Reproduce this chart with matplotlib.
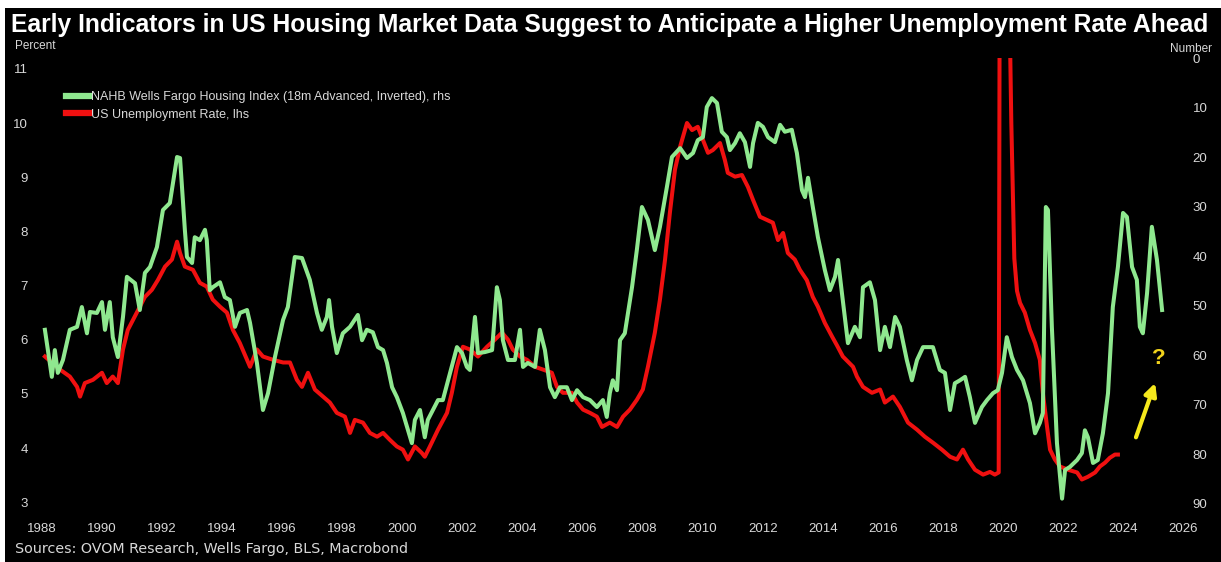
import matplotlib
matplotlib.use("Agg")
import matplotlib.pyplot as plt
from matplotlib.patches import Rectangle
from matplotlib.lines import Line2D

# US unemployment rate, percent (lhs)
unemp_years = [1988.10, 1988.60, 1988.93, 1989.17, 1989.27, 1989.43, 1989.70, 1990.00, 1990.16, 1990.36,
               1990.53, 1990.70, 1990.86, 1991.16, 1991.43, 1991.66, 1991.86, 1992.10, 1992.33, 1992.50,
               1992.60, 1992.76, 1993.03, 1993.26, 1993.49, 1993.69, 1993.93, 1994.16, 1994.36, 1994.59,
               1994.93, 1995.16, 1995.36, 1995.69, 1996.03, 1996.26, 1996.49, 1996.66, 1996.86, 1997.09,
               1997.36, 1997.59, 1997.82, 1998.09, 1998.26, 1998.42, 1998.69, 1998.92, 1999.16, 1999.36,
               1999.59, 1999.82, 2000.02, 2000.19, 2000.42, 2000.65, 2000.75, 2000.92, 2001.19, 2001.49,
               2001.65, 2001.82, 2002.02, 2002.25, 2002.52, 2002.82, 2003.08, 2003.32, 2003.52, 2003.68,
               2003.92, 2004.15, 2004.42, 2004.68, 2004.98, 2005.15, 2005.35, 2005.65, 2005.82, 2006.02,
               2006.25, 2006.48, 2006.65, 2006.91, 2007.15, 2007.35, 2007.58, 2007.81, 2008.01, 2008.18,
               2008.41, 2008.58, 2008.75, 2008.91, 2009.08, 2009.25, 2009.48, 2009.65, 2009.84, 2010.01,
               2010.18, 2010.34, 2010.58, 2010.74, 2010.84, 2011.08, 2011.31, 2011.51, 2011.68, 2011.91,
               2012.14, 2012.34, 2012.51, 2012.68, 2012.84, 2013.07, 2013.24, 2013.47, 2013.67, 2013.84,
               2014.07, 2014.31, 2014.47, 2014.67, 2015.01, 2015.14, 2015.34, 2015.64, 2015.91, 2016.07,
               2016.34, 2016.57, 2016.84, 2017.14, 2017.40, 2017.67, 2017.97, 2018.24, 2018.47, 2018.67,
               2018.84, 2019.07, 2019.34, 2019.57, 2019.73, 2019.86, 2019.90, 2020.15, 2020.28, 2020.38,
               2020.47, 2020.57, 2020.73, 2020.90, 2021.07, 2021.23, 2021.33,
               2021.47, 2021.57, 2021.73, 2021.90, 2022.17, 2022.47, 2022.63, 2022.83, 2023.07, 2023.23,
               2023.40, 2023.56, 2023.73, 2023.83]
unemp_rate = [5.69, 5.45, 5.32, 5.13, 4.95, 5.20, 5.26, 5.39, 5.20, 5.32,
              5.20, 5.82, 6.18, 6.50, 6.79, 6.92, 7.10, 7.35, 7.48, 7.81,
              7.60, 7.35, 7.29, 7.05, 6.98, 6.74, 6.61, 6.50, 6.18, 5.94,
              5.50, 5.82, 5.69, 5.63, 5.58, 5.58, 5.26, 5.13, 5.39, 5.08,
              4.95, 4.84, 4.65, 4.58, 4.28, 4.52, 4.47, 4.28, 4.21, 4.28,
              4.15, 4.03, 3.97, 3.79, 4.03, 3.91, 3.84, 4.03, 4.34, 4.65,
              5.02, 5.50, 5.87, 5.82, 5.69, 5.87, 6.00, 6.13, 6.00, 5.82,
              5.69, 5.63, 5.50, 5.45, 5.39, 5.13, 5.02, 5.02, 4.84, 4.71,
              4.65, 4.58, 4.39, 4.47, 4.39, 4.58, 4.71, 4.89, 5.08, 5.50,
              6.13, 6.74, 7.48, 8.34, 9.14, 9.56, 10.00, 9.87, 9.93, 9.69,
              9.45, 9.50, 9.63, 9.32, 9.08, 9.01, 9.04, 8.82, 8.58, 8.27,
              8.21, 8.16, 7.84, 7.97, 7.60, 7.48, 7.29, 7.10, 6.79, 6.61,
              6.31, 6.06, 5.90, 5.69, 5.50, 5.32, 5.13, 5.02, 5.08, 4.84,
              4.95, 4.76, 4.47, 4.34, 4.21, 4.10, 3.97, 3.84, 3.79, 3.97,
              3.79, 3.60, 3.51, 3.56, 3.51, 3.55, 14.70, 14.60, 10.00, 7.50,
              6.90, 6.68, 6.50, 6.18, 5.94, 5.63, 5.02,
              4.39, 3.97, 3.79, 3.66, 3.60, 3.55, 3.42, 3.47, 3.55, 3.66,
              3.73, 3.82, 3.88, 3.88]

# NAHB Wells Fargo housing index, 18m advanced, inverted (rhs)
nahb_years = [1988.10, 1988.20, 1988.33, 1988.43, 1988.53, 1988.70, 1988.93, 1989.17, 1989.33, 1989.50,
              1989.60, 1989.83, 1990.00, 1990.10, 1990.26, 1990.36, 1990.53, 1990.70, 1990.83, 1991.10,
              1991.26, 1991.43, 1991.60, 1991.83, 1992.03, 1992.26, 1992.50, 1992.60, 1992.76, 1992.83,
              1993.00, 1993.09, 1993.26, 1993.43, 1993.49, 1993.59, 1993.69, 1993.93, 1994.09, 1994.26,
              1994.43, 1994.59, 1994.83, 1994.93, 1995.16, 1995.36, 1995.53, 1995.76, 1996.03, 1996.19,
              1996.42, 1996.66, 1996.92, 1997.16, 1997.32, 1997.49, 1997.56, 1997.66, 1997.82, 1998.02,
              1998.26, 1998.52, 1998.66, 1998.82, 1999.02, 1999.19, 1999.36, 1999.49, 1999.66, 1999.82,
              2000.02, 2000.32, 2000.42, 2000.59, 2000.75, 2000.85, 2001.02, 2001.19, 2001.35, 2001.59,
              2001.82, 2001.99, 2002.15, 2002.25, 2002.42, 2002.52, 2002.75, 2002.99, 2003.15, 2003.25,
              2003.35, 2003.52, 2003.75, 2003.92, 2004.02, 2004.18, 2004.42, 2004.58, 2004.75, 2004.92,
              2005.08, 2005.25, 2005.48, 2005.65, 2005.82, 2006.02, 2006.25, 2006.48, 2006.68, 2006.81,
              2006.91, 2007.01, 2007.15, 2007.25, 2007.41, 2007.65, 2007.81, 2007.98, 2008.18, 2008.41,
              2008.58, 2008.81, 2008.98, 2009.25, 2009.48, 2009.68, 2009.84, 2010.01, 2010.14, 2010.31,
              2010.48, 2010.64, 2010.81, 2010.91, 2011.08, 2011.24, 2011.41, 2011.58, 2011.68, 2011.84,
              2012.01, 2012.18, 2012.41, 2012.58, 2012.74, 2012.97, 2013.14, 2013.31, 2013.41, 2013.51,
              2013.67, 2013.84, 2014.07, 2014.24, 2014.41, 2014.51, 2014.64, 2014.84, 2015.07, 2015.24,
              2015.34, 2015.57, 2015.74, 2015.91, 2016.07, 2016.24, 2016.41, 2016.57, 2016.80, 2016.97,
              2017.14, 2017.34, 2017.67, 2017.90, 2018.07, 2018.24, 2018.40, 2018.57, 2018.74, 2018.90,
              2019.07, 2019.30, 2019.47, 2019.67, 2019.83, 2019.97, 2020.13, 2020.30, 2020.47, 2020.67,
              2020.90, 2021.07, 2021.23, 2021.33, 2021.43, 2021.50, 2021.63, 2021.80, 2021.97, 2022.07,
              2022.23, 2022.47, 2022.63, 2022.73, 2022.83, 2023.00, 2023.16, 2023.33, 2023.50, 2023.66,
              2023.83, 2024.00, 2024.13, 2024.30, 2024.46, 2024.56, 2024.66, 2024.80, 2024.96, 2025.13,
              2025.30]
nahb_index = [54.9, 59.0, 64.4, 59.0, 63.6, 61.0, 54.9, 54.3, 50.3, 55.6,
              51.3, 51.5, 49.3, 54.9, 49.3, 56.4, 60.4, 52.3, 44.2, 45.5,
              50.9, 43.4, 42.2, 38.2, 30.7, 29.3, 20.0, 20.2, 34.7, 40.2,
              41.4, 36.2, 36.8, 34.7, 36.8, 46.9, 46.3, 45.3, 48.3, 48.9,
              54.3, 51.5, 50.9, 53.5, 61.6, 71.1, 67.7, 60.4, 52.9, 50.3,
              40.2, 40.4, 44.8, 51.5, 54.9, 52.3, 48.9, 54.3, 59.6, 55.6,
              54.3, 51.9, 57.0, 54.9, 55.4, 58.4, 59.0, 61.6, 66.5, 68.5,
              71.7, 77.8, 73.1, 71.1, 76.6, 73.1, 71.1, 69.1, 69.1, 63.6,
              58.4, 59.6, 62.4, 63.0, 52.3, 59.6, 59.4, 59.0, 46.3, 48.9,
              57.0, 61.0, 61.0, 54.9, 62.4, 61.6, 62.4, 54.9, 59.0, 66.5,
              68.5, 66.5, 66.5, 69.1, 67.1, 68.5, 69.1, 70.5, 69.1, 72.5,
              67.7, 65.1, 67.1, 57.0, 55.6, 46.3, 38.8, 30.1, 32.7, 38.8,
              34.1, 26.1, 20.0, 18.2, 20.2, 19.2, 16.6, 16.0, 9.9, 8.1,
              9.1, 14.9, 16.0, 18.6, 17.2, 15.2, 17.0, 22.0, 17.2, 13.1,
              13.9, 16.0, 17.0, 13.5, 14.9, 14.5, 19.2, 26.7, 28.1, 24.2,
              30.1, 36.2, 42.8, 46.9, 44.2, 40.8, 47.5, 57.6, 54.3, 56.4,
              46.3, 45.3, 48.9, 59.0, 54.3, 58.4, 52.3, 54.3, 61.0, 65.1,
              61.0, 58.4, 58.4, 63.0, 63.6, 71.1, 65.7, 65.1, 64.4, 68.5,
              73.7, 70.5, 69.1, 67.7, 67.1, 63.6, 56.4, 60.4, 63.0, 65.1,
              69.7, 75.8, 73.7, 71.7, 30.1, 30.7, 54.3, 77.8, 89.0, 83.2,
              82.6, 81.2, 79.8, 75.2, 76.6, 81.8, 81.2, 75.8, 67.7, 50.3,
              42.2, 31.3, 32.1, 42.2, 44.8, 54.3, 55.6, 47.5, 34.1, 40.8,
              50.9]

x_ticks = list(range(1988, 2027, 2))
left_ticks = list(range(3, 12))
right_ticks = list(range(0, 91, 10))

title = "Early Indicators in US Housing Market Data Suggest to Anticipate a Higher Unemployment Rate Ahead"
nahb_label = "NAHB Wells Fargo Housing Index (18m Advanced, Inverted), rhs"
unemp_label = "US Unemployment Rate, lhs"
source = "Sources: OVOM Research, Wells Fargo, BLS, Macrobond"

GREEN = "#8fe88f"
RED = "#f01010"
TXT = "#d8d8d8"
W, H = 1221, 562

plt.rcParams["font.family"] = ["Liberation Sans", "DejaVu Sans"]

fig = plt.figure(figsize=(W / 100, H / 100), dpi=100, facecolor="white")
fig.patches.append(Rectangle((5 / W, 0), 1 - 5 / W, 1 - 8 / H, transform=fig.transFigure,
                             facecolor="black", edgecolor="none", zorder=-10))

ax = fig.add_axes([35 / W, 50 / H, 1155 / W, 454 / H])
ax.set_facecolor("none")
ax2 = ax.twinx()

ax.plot(unemp_years, unemp_rate, color=RED, lw=2.9, solid_joinstyle="round", zorder=2)
ax2.plot(nahb_years, nahb_index, color=GREEN, lw=2.9, solid_joinstyle="round", zorder=3)

ax.set_xlim(1987.77, 2026.23)
ax.set_ylim(2.82, 11.2)
ax2.set_ylim(91.7, 0)

ax.set_xticks(x_ticks)
ax.set_yticks(left_ticks)
ax2.set_yticks(right_ticks)

for a in (ax, ax2):
    for s in a.spines.values():
        s.set_visible(False)
ax.tick_params(axis="x", length=0, labelsize=9.5, colors=TXT, pad=8)
ax.tick_params(axis="y", length=0, labelsize=9.5, colors=TXT, pad=5)
ax2.tick_params(axis="y", length=0, labelsize=9.5, colors=TXT, pad=2)

# legend
handles = [Line2D([], [], color=GREEN, lw=4.5), Line2D([], [], color=RED, lw=4.5)]
leg = ax2.legend(handles, [nahb_label, unemp_label], loc="upper left",
                 bbox_to_anchor=(0.0225, 0.938), frameon=False, fontsize=9,
                 handlelength=1.85, handletextpad=0.15, labelspacing=0.45, borderaxespad=0)
for t in leg.get_texts():
    t.set_color(TXT)

# arrow and question mark
ax.annotate("", xy=(2025.1, 5.25), xytext=(2024.4, 4.15),
            arrowprops=dict(arrowstyle="-|>", color="#f5e81c", lw=3, mutation_scale=18))
ax.text(2025.2, 5.65, "?", color="#f0d21c", fontsize=16, fontweight="bold", ha="center", va="center")

fig.text(610 / W, 1 - 25 / H, title, color="white", fontsize=17.7, fontweight="bold",
         ha="center", va="center")
fig.text(15 / W, 1 - 46 / H, "Percent", color=TXT, fontsize=8.5, ha="left", va="center")
fig.text(1212 / W, 1 - 49 / H, "Number", color=TXT, fontsize=8.5, ha="right", va="center")
fig.text(15 / W, 1 - 549 / H, source, color=TXT, fontsize=10.3, ha="left", va="center",
         family="DejaVu Sans")

fig.savefig("out.png", dpi=100, facecolor=fig.get_facecolor())
